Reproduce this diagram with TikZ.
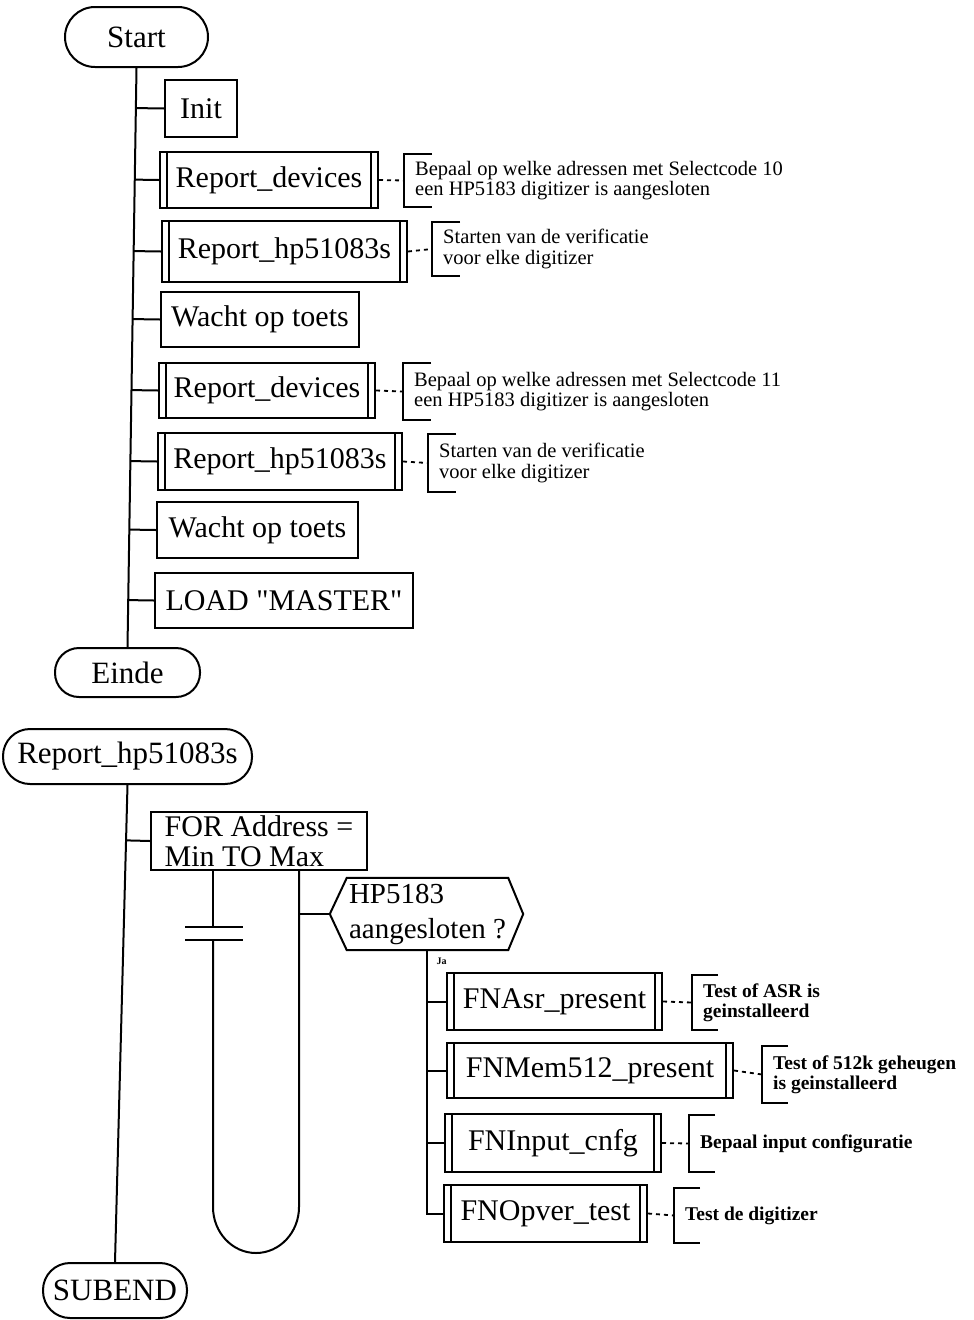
\documentclass[tikz,border=0pt]{standalone}
\usepackage{fontspec}
\setmainfont{Liberation Serif}
% same face without the TeX quote mapping, for straight quotes
\newfontfamily\plainserif{Liberation Serif}
\usetikzlibrary{calc}
\newcommand\boxfont{\fontsize{30}{30}\selectfont}
\newcommand\termfont{\fontsize{31}{31}\selectfont}
\newcommand\notefont{\fontsize{20.5}{20.5}\selectfont}
\newcommand\bnotefont{\fontsize{19.5}{20}\selectfont\bfseries}
% bracket of a comment: "[" along the left side of the comment node
\newcommand\cmtbracket[2][28pt]{%
  \draw[link] ([xshift=#1]#2.north west) -- (#2.north west) -- (#2.south west) -- ([xshift=#1]#2.south west);}
\begin{document}
\begin{tikzpicture}[x=1pt,y=-1pt,
  link/.style={line width=2pt},
  box/.style={draw, line width=2pt, rectangle, inner sep=0pt, font=\boxfont},
  subbox/.style={box, path picture={
      \draw[line width=1.7pt] ([xshift=7pt]path picture bounding box.north west) -- ([xshift=7pt]path picture bounding box.south west);
      \draw[line width=1.7pt] ([xshift=-7pt]path picture bounding box.north east) -- ([xshift=-7pt]path picture bounding box.south east);}},
  term/.style={draw, line width=2pt, rectangle, inner sep=0pt, font=\termfont},
  note/.style={anchor=west, inner xsep=11pt, inner ysep=0pt, align=left, font=\notefont},
  bnote/.style={note, font=\bnotefont},
  dots/.style={line width=1.8pt, dash pattern=on 4pt off 4pt},
]
\useasboundingbox (0,0) rectangle (974,1320);

% ---------------- main program ----------------
\node[term, rounded corners=30pt, minimum width=143pt, minimum height=60pt] (st) at (136.5,37) {Start};
\node[term, rounded corners=24pt, minimum width=145pt, minimum height=49pt] (en) at (127.5,672.5) {Einde};

\node[box, minimum width=72pt, minimum height=57pt] (init) at (201,108.5) {Init};
\node[subbox, minimum width=218pt, minimum height=56pt] (rd1) at (269,180) {Report\_devices};
\node[subbox, minimum width=245pt, minimum height=61pt] (rh1) at (284.5,251.5) {Report\_hp51083s};
\node[box, minimum width=198pt, minimum height=55pt] (wt1) at (260,319.5) {Wacht op toets};
\node[subbox, minimum width=216pt, minimum height=55pt] (rd2) at (267,390.5) {Report\_devices};
\node[subbox, minimum width=244pt, minimum height=57pt] (rh2) at (280,461.5) {Report\_hp51083s};
\node[box, minimum width=201pt, minimum height=56pt] (wt2) at (257.5,530) {Wacht op toets};
\node[box, minimum width=258pt, minimum height=55pt] (ld) at (284,600.5) {\plainserif LOAD "MASTER"};

% comments
\node[note, minimum height=53pt] (c1) at (404,180.5) {Bepaal op welke adressen met Selectcode 10\\een HP5183 digitizer is aangesloten};
\node[note, minimum height=54pt] (c2) at (432,249) {Starten van de verificatie\\voor elke digitizer};
\node[note, minimum height=57pt] (c3) at (403,391.5) {Bepaal op welke adressen met Selectcode 11\\een HP5183 digitizer is aangesloten};
\node[note, minimum height=58pt] (c4) at (428,463) {Starten van de verificatie\\voor elke digitizer};
\foreach \c in {c1,c2,c3,c4} {\cmtbracket{\c}}

% trunk and branches
\draw[link] (st.south) -- (en.north);
\foreach \b in {init,rd1,rh1,wt1,rd2,rh2,wt2,ld}
  \draw[link] ($(st.south)!(\b.west)!(en.north)$) -- (\b.west);
\draw[dots] (rd1.east) -- (c1.west);
\draw[dots] (rh1.east) -- (c2.west);
\draw[dots] (rd2.east) -- (c3.west);
\draw[dots] (rh2.east) -- (c4.west);

% ---------------- subprogram Report_hp51083s ----------------
\node[term, rounded corners=27pt, minimum width=249pt, minimum height=55pt] (rp) at (127.5,756.5) {Report\_hp51083s};
\node[term, rounded corners=27pt, minimum width=144pt, minimum height=55pt] (sub) at (115,1290.5) {SUBEND};

\node[box, minimum width=216pt, minimum height=58pt, align=left, font=\fontsize{30}{30}\selectfont] (for) at (259,841) {FOR Address =\\Min TO Max};

% decision
\node[minimum width=161pt, minimum height=72pt, inner sep=0pt, align=left, font=\fontsize{29}{35}\selectfont] (hq) at (427.5,914) {HP5183\\aangesloten ?};
\coordinate (hl) at ($(hq.west)+(-17,0)$);
\coordinate (hr) at ($(hq.east)+(15,0)$);
\draw[link] (hq.north west) -- (hq.north east) -- (hr) -- (hq.south east) -- (hq.south west) -- (hl) -- cycle;
\node[font=\fontsize{10}{10}\selectfont\bfseries, anchor=north west] (ja) at (433,954) {Ja};

\node[subbox, minimum width=215pt, minimum height=57pt] (fa) at (554.5,1001.5) {FNAsr\_present};
\node[subbox, minimum width=286pt, minimum height=55pt] (fm) at (590,1070.5) {FNMem512\_present};
\node[subbox, minimum width=216pt, minimum height=58pt] (fi) at (553,1143) {FNInput\_cnfg};
\node[subbox, minimum width=203pt, minimum height=57pt] (fo) at (545.5,1213.5) {FNOpver\_test};

\node[bnote, minimum height=55pt] (ca) at (692,1002.5) {Test of ASR is\\geinstalleerd};
\node[bnote, minimum height=57pt] (cm) at (762,1074.5) {Test of 512k geheugen\\is geinstalleerd};
\node[bnote, minimum height=57pt] (ci) at (689,1143.5) {Bepaal input configuratie};
\node[bnote, minimum height=55pt] (co) at (674,1215.5) {Test de digitizer};
\foreach \c in {ca,cm,ci,co} {\cmtbracket[26pt]{\c}}
\draw[dots] (fa.east) -- (ca.west);
\draw[dots] (fm.east) -- (cm.west);
\draw[dots] (fi.east) -- (ci.west);
\draw[dots] (fo.east) -- (co.west);

% trunk of the subprogram
\draw[link] (rp.south) -- (sub.north);
\draw[link] ($(rp.south)!(for.west)!(sub.north)$) -- (for.west);

% loop body: left leg with break mark, bottom bend, right leg
\coordinate (xl) at (213,0);
\coordinate (xr) at (299,0);
\coordinate (bk1) at (213,927);
\coordinate (bk2) at (213,940);
\draw[link] (for.south -| xl) -- (bk1);
\draw[link] ($(bk1)+(-28,0)$) -- ($(bk1)+(30,0)$);
\draw[link] ($(bk2)+(-28,0)$) -- ($(bk2)+(30,0)$);
\draw[link] (bk2) -- (213,1207) arc[start angle=180, end angle=0, x radius=43, y radius=46] -- (for.south -| xr);
\draw[link] (hl -| xr) -- (hl);

% "Ja" branch of the decision
\coordinate (xj) at (427,0);
\draw[link] (hq.south -| xj) -- (fo.west -| xj) -- (fo.west);
\foreach \b in {fa,fm,fi}
  \draw[link] (\b.west -| xj) -- (\b.west);
\end{tikzpicture}
\end{document}
